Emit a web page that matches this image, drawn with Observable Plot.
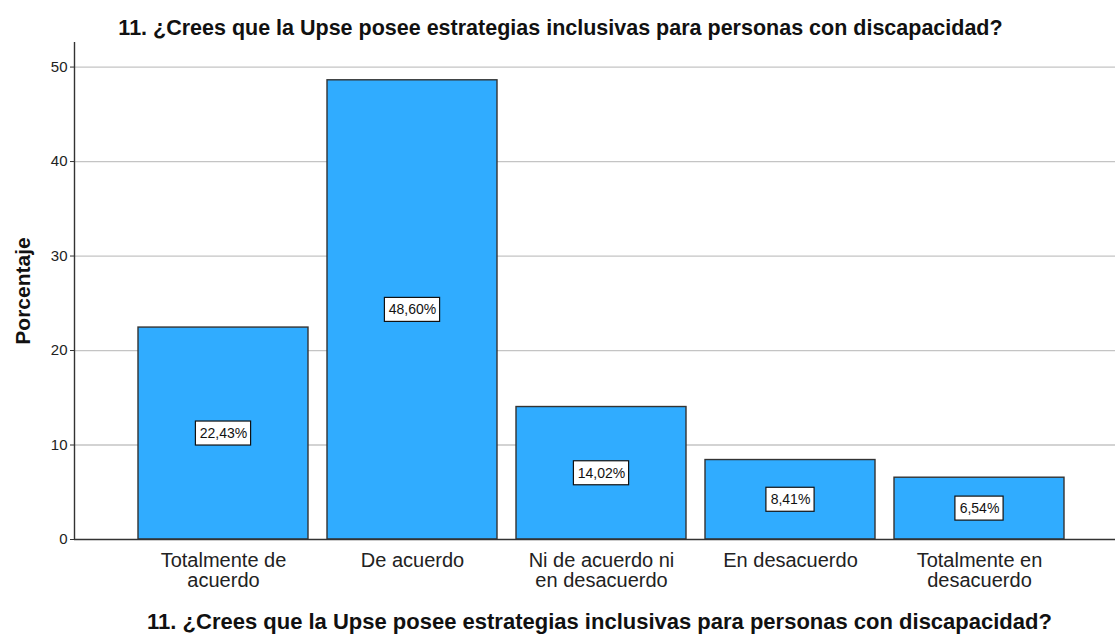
<!DOCTYPE html>
<html>
<head>
<meta charset="utf-8">
<script src="https://cdn.jsdelivr.net/npm/d3@7"></script>
<script src="https://cdn.jsdelivr.net/npm/@observablehq/plot@0.6"></script>
<style>
  html, body { margin: 0; padding: 0; background: #fff; }
  #chart svg { display: block; }
</style>
</head>
<body>
<div id="chart"></div>
<script>
const title = "11. ¿Crees que la Upse posee estrategias inclusivas para personas con discapacidad?";
const yLabel = "Porcentaje";
const categories = ["Totalmente de acuerdo", "De acuerdo", "Ni de acuerdo ni en desacuerdo", "En desacuerdo", "Totalmente en desacuerdo"];
const tickLabels = ["Totalmente de\nacuerdo", "De acuerdo", "Ni de acuerdo ni\nen desacuerdo", "En desacuerdo", "Totalmente en\ndesacuerdo"];
const values = [22.43, 48.60, 14.02, 8.41, 6.54];
const valueLabels = ["22,43%", "48,60%", "14,02%", "8,41%", "6,54%"];
const yTicks = [0, 10, 20, 30, 40, 50];

const data = categories.map((c, i) => ({cat: c, tick: tickLabels[i], v: values[i], lab: valueLabels[i]}));

const W = 1115, H = 634;
const mL = 74, mR = 0, mT = 42, mB = 95;
const yMax = 52.6;
const xRange = [136.5, 1066.5];
const padIn = 0.1;
const step = (xRange[1] - xRange[0]) / (categories.length - padIn);
const bw = step * (1 - padIn);
const boxH = 24;
const boxWide = data.filter(d => d.lab.length >= 6);
const boxNarrow = data.filter(d => d.lab.length < 6);
const FONT = "'Liberation Sans', Arial, sans-serif";
const frameCenterX = (mL + W - mR) / 2;

const chart = Plot.plot({
  width: W, height: H,
  marginLeft: mL, marginRight: mR, marginTop: mT, marginBottom: mB,
  style: {fontFamily: FONT, background: "#fff"},
  x: {domain: categories, range: xRange, paddingInner: padIn, paddingOuter: 0, label: null},
  y: {domain: [0, yMax], label: null},
  marks: [
    Plot.gridY(yTicks.filter(t => t > 0), {stroke: "#c4c4c4", strokeOpacity: 1, strokeWidth: 1.3}),
    Plot.barY(data, {x: "cat", y: "v", fill: "#30acff", stroke: "#333", strokeWidth: 1.4}),
    Plot.rect(boxWide, {x: "cat", y1: d => d.v / 2, y2: d => d.v / 2, insetLeft: (bw - 56) / 2, insetRight: (bw - 56) / 2, insetTop: -boxH / 2, insetBottom: -boxH / 2, fill: "#fff", stroke: "#111", strokeWidth: 1.2}),
    Plot.rect(boxNarrow, {x: "cat", y1: d => d.v / 2, y2: d => d.v / 2, insetLeft: (bw - 49) / 2, insetRight: (bw - 49) / 2, insetTop: -boxH / 2, insetBottom: -boxH / 2, fill: "#fff", stroke: "#111", strokeWidth: 1.2}),
    Plot.text(data, {x: "cat", y: d => d.v / 2, text: "lab", fontSize: 14, fill: "#111"}),
    Plot.ruleY([0], {stroke: "#333", strokeWidth: 1.4}),
    Plot.ruleX([0], {x: null, dx: mL - frameCenterX, y1: 0, y2: yMax, stroke: "#333", strokeWidth: 1.4}),
    Plot.axisY(yTicks, {tickSize: 4, tickPadding: 3, fontSize: 15, fill: "#222", stroke: "#333", label: null}),
    Plot.axisX(categories, {tickSize: 0, tickPadding: 13, fontSize: 20, fill: "#222", lineHeight: 1.02, tickFormat: d => tickLabels[categories.indexOf(d)], label: null}),
    Plot.text([title], {frameAnchor: "top", dy: -23, dx: 560 - frameCenterX, fontSize: 21.5, fontWeight: "bold", fill: "#111"}),
    Plot.text([title], {frameAnchor: "bottom", dy: 89, dx: 599 - frameCenterX, fontSize: 22, fontWeight: "bold", fill: "#111"}),
    Plot.text([yLabel], {frameAnchor: "left", textAnchor: "middle", dx: -51, dy: 0, rotate: -90, fontSize: 21, fontWeight: "bold", fill: "#111"})
  ]
});
document.getElementById("chart").appendChild(chart);
</script>
</body>
</html>
